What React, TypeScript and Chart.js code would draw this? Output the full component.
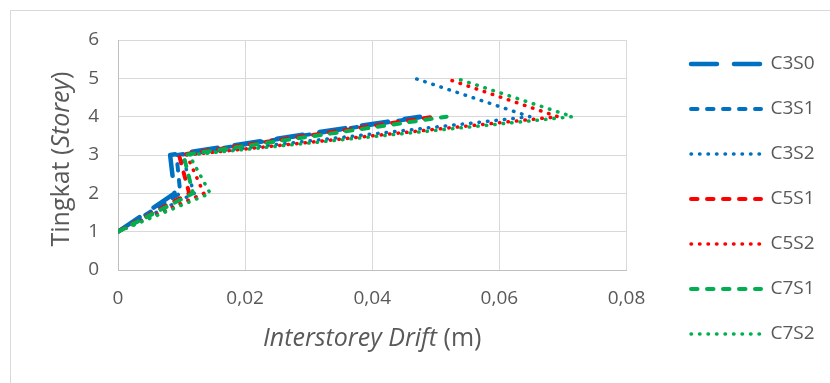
import React, { useEffect, useRef } from "react";
import { Chart, registerables } from "chart.js";

Chart.register(...registerables);

// ---- data ----
const seriesNames = ["C3S0", "C3S1", "C3S2", "C5S1", "C5S2", "C7S1", "C7S2"];
const storeysFour = [1, 2, 3, 4];
const storeysFive = [1, 2, 3, 4, 5];
const driftC3S0 = [0, 0.0089, 0.0082, 0.0475];
const driftC3S1 = [0, 0.0098, 0.0092, 0.0482];
const driftC3S2 = [0, 0.012, 0.01, 0.0648, 0.0467];
const driftC5S1 = [0, 0.0112, 0.0096, 0.0498];
const driftC5S2 = [0, 0.0135, 0.0108, 0.0692, 0.0515];
const driftC7S1 = [0, 0.0118, 0.0103, 0.0517];
const driftC7S2 = [0, 0.0145, 0.0112, 0.0715, 0.0532];
const xTickValues = [0, 0.02, 0.04, 0.06, 0.08];
const yTickValues = [0, 1, 2, 3, 4, 5, 6];

const seriesStoreys = [storeysFour, storeysFour, storeysFive, storeysFour, storeysFive, storeysFour, storeysFive];
const seriesDrifts = [driftC3S0, driftC3S1, driftC3S2, driftC5S1, driftC5S2, driftC7S1, driftC7S2];

// ---- styles ----
const BLUE = "#0070C0";
const RED = "#FF0000";
const GREEN = "#00B050";
const seriesColors = [BLUE, BLUE, BLUE, RED, RED, GREEN, GREEN];
const seriesDash = [[26, 17], [6.5, 9.5], [0.5, 8], [6.5, 9.5], [0.5, 8], [6.5, 9.5], [0.5, 8]];
const seriesWidth = [4.5, 4, 3.5, 4, 3.5, 4, 3.5];

const FONT = '"Open Sans", sans-serif';
const TEXT = "#595959";
const TICK_SIZE = 19;
const LEGEND_SIZE = 19;
const TITLE_SIZE = 25;

const xTitleParts = [
  { text: "Interstorey Drift", italic: true },
  { text: " (m)", italic: false },
];
const yTitleParts = [
  { text: "Tingkat (", italic: false },
  { text: "Storey", italic: true },
  { text: ")", italic: false },
];

function drawParts(ctx: CanvasRenderingContext2D, parts: { text: string; italic: boolean }[], cx: number, cy: number, rot: number) {
  ctx.save();
  ctx.translate(cx, cy);
  ctx.rotate(rot);
  ctx.fillStyle = TEXT;
  ctx.textBaseline = "middle";
  ctx.textAlign = "left";
  const fonts = parts.map((p) => `${p.italic ? "italic " : ""}${TITLE_SIZE}px ${FONT}`);
  let total = 0;
  const widths = parts.map((p, i) => {
    ctx.font = fonts[i];
    const w = ctx.measureText(p.text).width;
    total += w;
    return w;
  });
  let x = -total / 2;
  parts.forEach((p, i) => {
    ctx.font = fonts[i];
    ctx.fillText(p.text, x, 0);
    x += widths[i];
  });
  ctx.restore();
}

const axisTitlePlugin = {
  id: "axisTitles",
  afterDraw(chart: any) {
    const ctx = chart.ctx as CanvasRenderingContext2D;
    const a = chart.chartArea;
    drawParts(ctx, xTitleParts, (a.left + a.right) / 2, 339, 0);
    drawParts(ctx, yTitleParts, 62, (a.top + a.bottom) / 2 + 4, -Math.PI / 2);
  },
};

const W = 830;
const H = 383;
const PLOT_LEFT = 118;
const PLOT_RIGHT = 626.5;
const PLOT_TOP = 40;
const PLOT_BOTTOM = 270;
const LEGEND_PAD = 26;
const LEGEND_LEFT = 691 - LEGEND_PAD;
const LEGEND_BOX = 70;
const TOP_PAD = 64 - LEGEND_PAD - LEGEND_SIZE / 2;

export default function App() {
  const ref = useRef<HTMLCanvasElement>(null);
  useEffect(() => {
    const canvas = ref.current!;

    const datasets = seriesNames.map((name, i) => ({
      label: name,
      data: seriesDrifts[i].map((x, j) => ({ x, y: seriesStoreys[i][j] })),
      borderColor: seriesColors[i],
      backgroundColor: seriesColors[i],
      borderWidth: seriesWidth[i],
      borderDash: seriesDash[i],
      borderCapStyle: "round" as const,
      borderJoinStyle: "round" as const,
      pointRadius: 0,
      pointHoverRadius: 0,
      showLine: true,
      fill: false,
      tension: 0,
      order: seriesNames.length - i,
    }));

    const defaultLabels = (Chart.defaults as any).plugins.legend.labels.generateLabels;

    const chart = new Chart(canvas, {
      type: "scatter",
      data: { datasets },
      plugins: [axisTitlePlugin],
      options: {
        responsive: false,
        animation: false,
        events: [],
        layout: { padding: { top: TOP_PAD, left: 0, right: 0, bottom: 0 } },
        plugins: {
          tooltip: { enabled: false },
          title: { display: false },
          legend: {
            position: "right",
            align: "start",
            maxWidth: 400,
            labels: {
              usePointStyle: true,
              pointStyle: "line",
              pointStyleWidth: LEGEND_BOX,
              boxWidth: LEGEND_BOX,
              padding: LEGEND_PAD,
              color: TEXT,
              font: { family: FONT, size: LEGEND_SIZE },
              sort: (a: any, b: any) => a.datasetIndex - b.datasetIndex,
              generateLabels: (c: any) =>
                defaultLabels(c).map((item: any) => {
                  const ds = c.data.datasets[item.datasetIndex];
                  return {
                    ...item,
                    pointStyle: "line",
                    strokeStyle: ds.borderColor,
                    fillStyle: ds.borderColor,
                    lineWidth: ds.borderWidth,
                    lineDash: ds.borderDash,
                    lineCap: ds.borderCapStyle,
                    lineDashOffset: 0,
                  };
                }),
            },
          },
        },
        scales: {
          x: {
            type: "linear",
            position: "bottom",
            min: 0,
            max: 0.08,
            afterBuildTicks: (s: any) => {
              s.ticks = xTickValues.map((v) => ({ value: v }));
            },
            afterFit: (s: any) => {
              s.height = H - PLOT_BOTTOM;
            },
            grid: { color: "#d9d9d9", lineWidth: 1, drawTicks: false },
            border: { color: "#bfbfbf", width: 1 },
            ticks: {
              padding: 17,
              color: TEXT,
              font: { family: FONT, size: TICK_SIZE },
              maxRotation: 0,
              callback: (v: any) => (v === 0 ? "0" : Number(v).toFixed(2).replace(".", ",")),
            },
          },
          xTop: {
            type: "linear",
            position: "top",
            display: true,
            grid: { display: false, drawTicks: false },
            border: { display: false },
            ticks: { display: false },
            afterFit: (s: any) => {
              s.height = PLOT_TOP - TOP_PAD;
            },
          },
          y: {
            type: "linear",
            position: "left",
            min: 0,
            max: 6,
            afterBuildTicks: (s: any) => {
              s.ticks = yTickValues.map((v) => ({ value: v }));
            },
            afterFit: (s: any) => {
              s.width = PLOT_LEFT;
            },
            grid: { color: "#d9d9d9", lineWidth: 1, drawTicks: false },
            border: { color: "#bfbfbf", width: 1 },
            ticks: {
              padding: 19,
              color: TEXT,
              font: { family: FONT, size: TICK_SIZE },
            },
          },
          yRight: {
            type: "linear",
            position: "right",
            display: true,
            grid: { display: false, drawTicks: false },
            border: { display: false },
            ticks: { display: false },
            afterFit: (s: any) => {
              s.width = LEGEND_LEFT - PLOT_RIGHT;
            },
          },
        },
      },
    });

    // place the legend so that its items start where the reference has them
    const lg: any = (chart as any).legend;
    if (lg) {
      const pr = Math.max(0, W - LEGEND_LEFT - lg.width);
      (chart.options as any).layout.padding.right = pr;
      chart.update();
    }
    return () => chart.destroy();
  }, []);

  return (
    <div style={{ position: "fixed", left: 0, top: 0, width: W, height: H, overflow: "hidden", background: "#fff" }}>
      <div
        style={{
          position: "absolute",
          left: 10,
          top: 10,
          width: W,
          height: H + 20,
          border: "1px solid #d9d9d9",
          boxSizing: "border-box",
        }}
      />
      <canvas ref={ref} width={W} height={H} style={{ position: "absolute", left: 0, top: 0 }} />
    </div>
  );
}
